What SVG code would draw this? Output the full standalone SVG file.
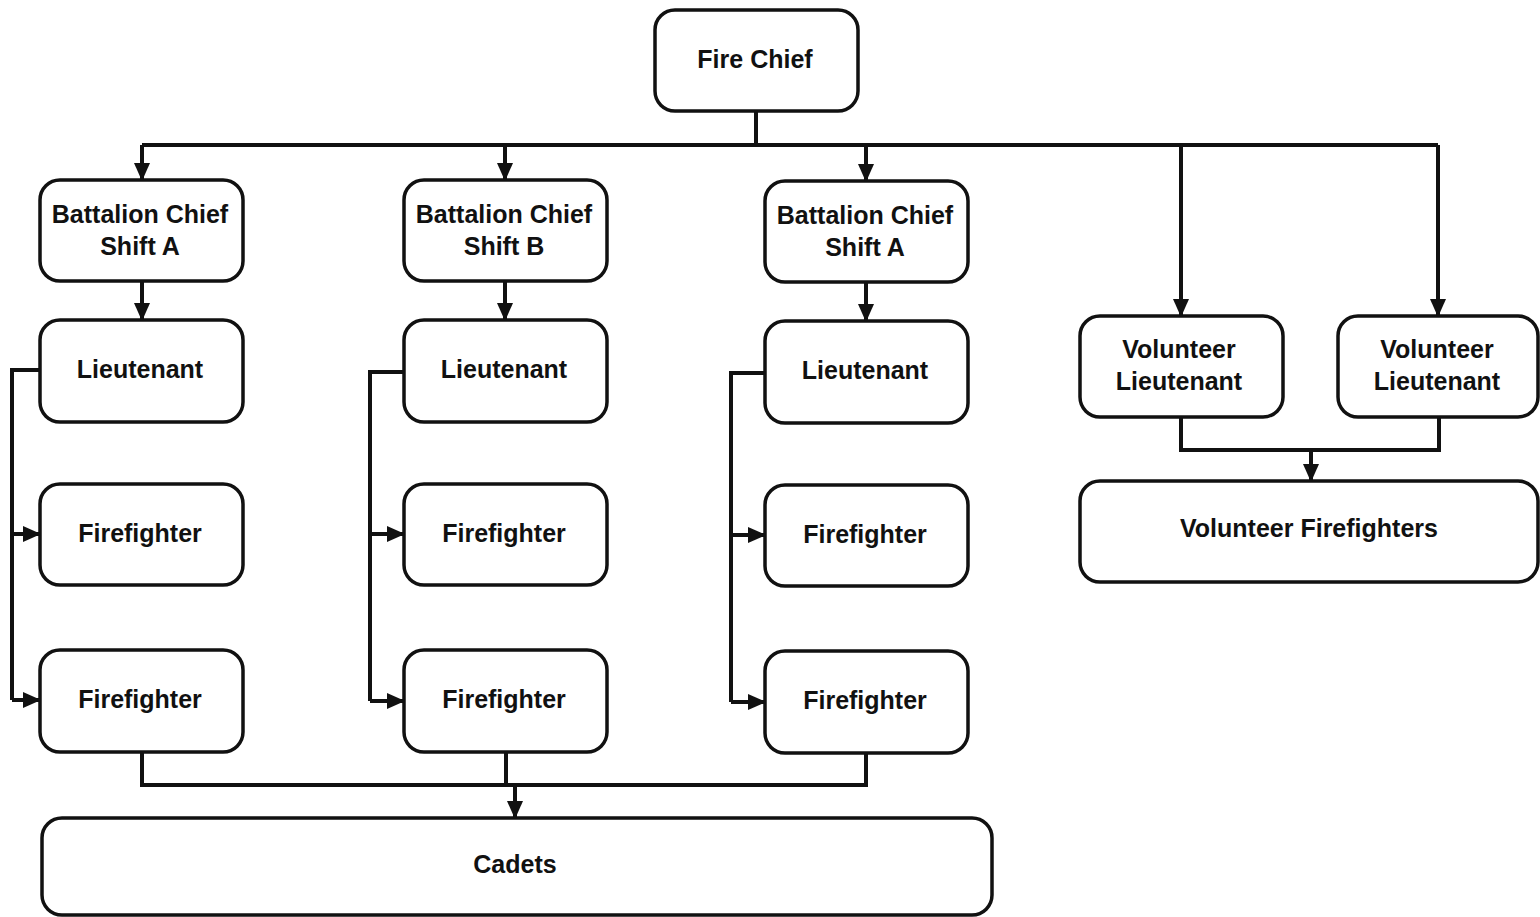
<svg xmlns="http://www.w3.org/2000/svg" width="1540" height="917" viewBox="0 0 1540 917">
  <style>
    .box { fill: #ffffff; stroke: #111111; stroke-width: 3.5; }
    .lbl { font-family: "Liberation Sans", Arial, sans-serif; font-weight: bold; font-size: 25px; fill: #111111; text-anchor: middle; }
    .wire { fill: none; stroke: #111111; stroke-width: 4; }
    .arr { fill: none; stroke: #111111; stroke-width: 4; marker-end: url(#head); }
  </style>
  <defs>
    <marker id="head" markerUnits="userSpaceOnUse" markerWidth="18" markerHeight="18" viewBox="0 0 18 18" refX="17" refY="9" orient="auto">
      <path d="M0,1 L18,9 L0,17 Z" fill="#111111"/>
    </marker>
  </defs>
  <rect width="1540" height="917" fill="#ffffff"/>

  <!-- connectors -->
  <g id="connectors">
    <!-- chief to shift chiefs and volunteer lieutenants -->
    <path class="wire" d="M756,111 V145"/>
    <path class="wire" d="M142,145 H1438"/>
    <path class="arr" d="M142,145 V180"/>
    <path class="arr" d="M505,145 V180"/>
    <path class="arr" d="M866,145 V181"/>
    <path class="arr" d="M1181,145 V316"/>
    <path class="arr" d="M1438,145 V316"/>
    <!-- battalion chiefs to lieutenants -->
    <path class="arr" d="M142,281 V320"/>
    <path class="arr" d="M505,281 V320"/>
    <path class="arr" d="M866,282 V321"/>
    <!-- lieutenants to firefighters -->
    <path class="wire" d="M40,370 H12 V700"/>
    <path class="arr" d="M12,534 H40"/>
    <path class="arr" d="M12,700 H40"/>
    <path class="wire" d="M404,372 H370 V701"/>
    <path class="arr" d="M370,534 H404"/>
    <path class="arr" d="M370,701 H404"/>
    <path class="wire" d="M765,373 H731 V702"/>
    <path class="arr" d="M731,535 H765"/>
    <path class="arr" d="M731,702 H765"/>
    <!-- firefighters to cadets -->
    <path class="wire" d="M142,752 V785 H866 V753"/>
    <path class="wire" d="M506,752 V785"/>
    <path class="arr" d="M515,785 V818"/>
    <!-- volunteer lieutenants to volunteer firefighters -->
    <path class="wire" d="M1181,417 V450 H1439 V417"/>
    <path class="arr" d="M1311,450 V481"/>
  </g>

  <g id="fire-chief">
    <rect class="box" x="655" y="10" width="203" height="101" rx="20"/>
    <text class="lbl" x="755" y="68">Fire Chief</text>
  </g>

  <g id="bc-shift-a-1">
    <rect class="box" x="40" y="180" width="203" height="101" rx="20"/>
    <text class="lbl" x="140" y="223">Battalion Chief</text>
    <text class="lbl" x="140" y="255">Shift A</text>
  </g>
  <g id="bc-shift-b">
    <rect class="box" x="404" y="180" width="203" height="101" rx="20"/>
    <text class="lbl" x="504" y="223">Battalion Chief</text>
    <text class="lbl" x="504" y="255">Shift B</text>
  </g>
  <g id="bc-shift-a-2">
    <rect class="box" x="765" y="181" width="203" height="101" rx="20"/>
    <text class="lbl" x="865" y="224">Battalion Chief</text>
    <text class="lbl" x="865" y="256">Shift A</text>
  </g>

  <g id="lt-1">
    <rect class="box" x="40" y="320" width="203" height="102" rx="20"/>
    <text class="lbl" x="140" y="378">Lieutenant</text>
  </g>
  <g id="lt-2">
    <rect class="box" x="404" y="320" width="203" height="102" rx="20"/>
    <text class="lbl" x="504" y="378">Lieutenant</text>
  </g>
  <g id="lt-3">
    <rect class="box" x="765" y="321" width="203" height="102" rx="20"/>
    <text class="lbl" x="865" y="379">Lieutenant</text>
  </g>

  <g id="ff-1a">
    <rect class="box" x="40" y="484" width="203" height="101" rx="20"/>
    <text class="lbl" x="140" y="542">Firefighter</text>
  </g>
  <g id="ff-1b">
    <rect class="box" x="40" y="650" width="203" height="102" rx="20"/>
    <text class="lbl" x="140" y="708">Firefighter</text>
  </g>
  <g id="ff-2a">
    <rect class="box" x="404" y="484" width="203" height="101" rx="20"/>
    <text class="lbl" x="504" y="542">Firefighter</text>
  </g>
  <g id="ff-2b">
    <rect class="box" x="404" y="650" width="203" height="102" rx="20"/>
    <text class="lbl" x="504" y="708">Firefighter</text>
  </g>
  <g id="ff-3a">
    <rect class="box" x="765" y="485" width="203" height="101" rx="20"/>
    <text class="lbl" x="865" y="543">Firefighter</text>
  </g>
  <g id="ff-3b">
    <rect class="box" x="765" y="651" width="203" height="102" rx="20"/>
    <text class="lbl" x="865" y="709">Firefighter</text>
  </g>

  <g id="vol-lt-1">
    <rect class="box" x="1080" y="316" width="203" height="101" rx="20"/>
    <text class="lbl" x="1179" y="358">Volunteer</text>
    <text class="lbl" x="1179" y="390">Lieutenant</text>
  </g>
  <g id="vol-lt-2">
    <rect class="box" x="1338" y="316" width="200" height="101" rx="20"/>
    <text class="lbl" x="1437" y="358">Volunteer</text>
    <text class="lbl" x="1437" y="390">Lieutenant</text>
  </g>
  <g id="vol-ff">
    <rect class="box" x="1080" y="481" width="458" height="101" rx="20"/>
    <text class="lbl" x="1309" y="537">Volunteer Firefighters</text>
  </g>

  <g id="cadets">
    <rect class="box" x="42" y="818" width="950" height="97" rx="20"/>
    <text class="lbl" x="515" y="873">Cadets</text>
  </g>
</svg>
